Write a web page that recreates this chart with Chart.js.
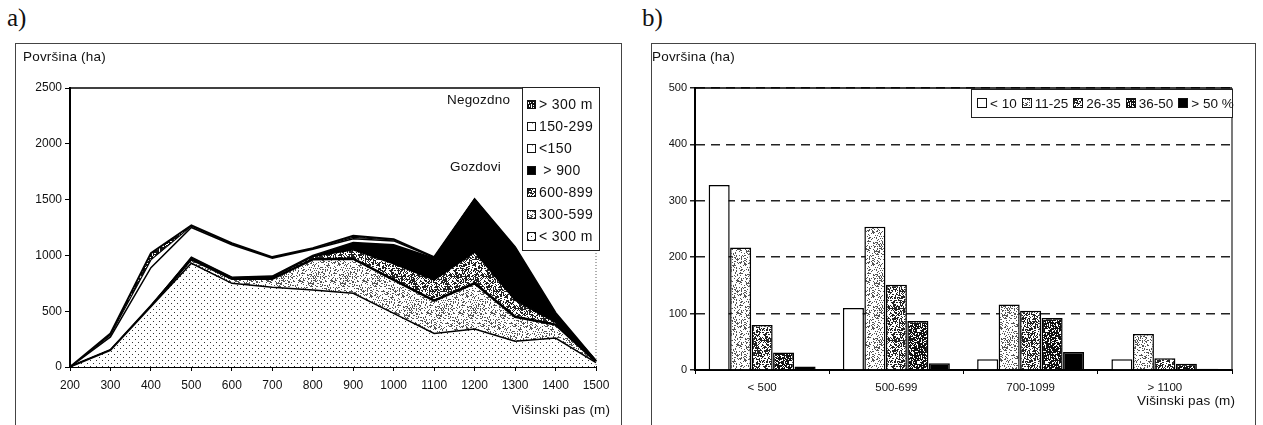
<!DOCTYPE html>
<html>
<head>
<meta charset="utf-8">
<script src="https://cdn.jsdelivr.net/npm/chart.js@4.4.0/dist/chart.umd.min.js"></script>
<style>
    body { margin: 0; width: 1263px; height: 425px; background: #fff; position: relative; overflow: hidden;
           font-family: "Liberation Sans", Arial, sans-serif; color: #111; }
    .abs { position: absolute; white-space: nowrap; }
    .frame { position: absolute; border: 1px solid #444; }
    .tag { font-family: "Liberation Serif", "Times New Roman", serif; font-size: 25px; }
    .axt { font-size: 13.5px; letter-spacing: 0.2px; }
    .lgA { position: absolute; border: 1px solid #222; background: #fff; font-size: 14px; letter-spacing: 0.4px; }
    .lgA div { position: absolute; left: 4px; height: 16px; line-height: 16px; white-space: nowrap; }
    .lgA canvas, .lgB canvas { border: 1px solid #111; vertical-align: middle; margin-right: 3px; position: relative; top: -1px; }
    .lgB { position: absolute; border: 1px solid #222; background: #fff; font-size: 13.5px; letter-spacing: 0px;
           display: flex; align-items: center; white-space: nowrap; }
    .lgB span { margin-left: 5px; white-space: nowrap; }
    canvas.ch { position: absolute; top: 0; }
</style>
</head>
<body>
<div class="frame" style="left:15px;top:43px;width:605px;height:420px;"></div>
<div class="frame" style="left:651px;top:43px;width:603px;height:420px;"></div>

<div class="abs tag" style="left:7px;top:4px;">a)</div>
<div class="abs tag" style="left:642px;top:4px;">b)</div>

<canvas id="chartA" class="ch" width="630" height="425" style="left:0px;"></canvas>
<canvas id="chartB" class="ch" width="633" height="425" style="left:630px;"></canvas>

<div class="abs axt" style="left:23px;top:49px;">Površina (ha)</div>
<div class="abs axt" style="left:652px;top:49px;">Površina (ha)</div>
<div class="abs axt" style="left:512px;top:402px;">Višinski pas (m)</div>
<div class="abs axt" style="left:1137px;top:393px;">Višinski pas (m)</div>

<div class="abs axt" style="left:447px;top:92px;">Negozdno</div>
<div class="abs axt" style="left:450px;top:159px;">Gozdovi</div>

<div id="legendA" class="lgA" style="left:522px;top:87px;width:76px;height:162px;"></div>
<div id="legendB" class="lgB" style="left:971px;top:89px;width:260px;height:27px;"></div>

<script>
// a) area by altitude band (ha), stacked from bottom up
const altitudes = ['200', '300', '400', '500', '600', '700', '800', '900', '1000', '1100', '1200', '1300', '1400', '1500'];
const forestUnder300 = [0, 150, 540, 930, 750, 715, 690, 660, 480, 300, 340, 230, 260, 40];
const forest300to599 = [0, 0, 5, 35, 40, 75, 275, 310, 300, 295, 410, 220, 120, 8];
const forest600to899 = [0, 0, 0, 13, 10, 15, 25, 80, 145, 185, 280, 150, 20, 4];
const forestOver900  = [0, 0, 0, 7, 5, 10, 10, 65, 170, 195, 470, 460, 55, 3];
const openUnder150   = [0, 120, 345, 265, 290, 160, 55, 35, 35, 5, 0, 5, 10, 0];
const open150to299   = [0, 15, 70, 12, 8, 5, 5, 12, 8, 3, 2, 5, 10, 0];
const openOver300    = [0, 15, 60, 8, 7, 5, 5, 13, 7, 2, 3, 5, 10, 0];
const yTicksA = [0, 500, 1000, 1500, 2000, 2500];

// b) area by slope class in each altitude band (ha)
const bandLabels = ['< 500', '500-699', '700-1099', '> 1100'];
const slopeUnder10 = [328, 110, 19, 19];
const slope11to25  = [217, 254, 116, 64];
const slope26to35  = [80, 151, 105, 21];
const slope36to50  = [31, 87, 92, 11];
const slopeOver50  = [6, 12, 32, 2];
const yTicksB = [0, 100, 200, 300, 400, 500];

const FONT = '"Liberation Sans", Arial, sans-serif';

// texture tiles for the scanned fills
function makePattern(size, bg, fg, test) {
    const c = document.createElement('canvas');
    c.width = c.height = size;
    const g = c.getContext('2d');
    g.fillStyle = bg;
    g.fillRect(0, 0, size, size);
    g.fillStyle = fg;
    for (let y = 0; y < size; y++) {
        for (let x = 0; x < size; x++) {
            if (test(x, y)) g.fillRect(x, y, 1, 1);
        }
    }
    return g.createPattern(c, 'repeat');
}
function hash(x, y, seed) {
    let h = Math.imul(x + 1, 0x27d4eb2d) ^ Math.imul(y + 7, 0x165667b1) ^ Math.imul(seed, 0x9e3779b1);
    h = Math.imul(h ^ (h >>> 15), 0x85ebca6b);
    h = Math.imul(h ^ (h >>> 13), 0xc2b2ae35);
    h ^= h >>> 16;
    return (h >>> 0) % 100;
}
const pSparse = makePattern(6, '#fff', '#333', (x, y) => (x === 0 && y === 0) || (x === 3 && y === 3));
const pLight  = makePattern(32, '#fff', '#555', (x, y) => hash(x, y, 1) < 24);
const pMid    = makePattern(32, '#fff', '#222', (x, y) => hash(x, y, 2) < 50);
const pDark   = makePattern(32, '#fff', '#111', (x, y) => hash(x, y, 3) < 72);
const pOpen   = makePattern(8, '#fff', '#999', (x, y) => hash(x, y, 4) < 4);

function frameLines(rightDash) {
    return {
        id: 'frameLines',
        afterDraw(chart) {
            const { ctx, chartArea: a } = chart;
            ctx.save();
            ctx.strokeStyle = '#000';
            ctx.lineWidth = 1.6;
            ctx.beginPath();
            ctx.moveTo(a.left, a.top);
            ctx.lineTo(a.right, a.top);
            ctx.stroke();
            ctx.lineWidth = 1.2;
            ctx.strokeStyle = rightDash ? '#777' : '#222';
            ctx.setLineDash(rightDash ? [1, 2] : []);
            ctx.beginPath();
            ctx.moveTo(a.right, a.top);
            ctx.lineTo(a.right, a.bottom);
            ctx.stroke();
            ctx.restore();
        }
    };
}

function layer(label, data, fill, bg, width) {
    return {
        label: label, data: data, fill: fill,
        backgroundColor: bg, borderColor: '#000', borderWidth: width,
        pointRadius: 0, tension: 0
    };
}

const plainTick = v => String(v);

new Chart(document.getElementById('chartA'), {
    type: 'line',
    data: {
        labels: altitudes,
        datasets: [
            layer('< 300 m', forestUnder300, 'origin', pSparse, 1.5),
            layer('300-599', forest300to599, '-1', pLight, 2.5),
            layer('600-899', forest600to899, '-1', pMid, 1.5),
            layer('> 900', forestOver900, '-1', '#000', 1.5),
            layer('<150', openUnder150, '-1', '#fff', 1.5),
            layer('150-299', open150to299, '-1', '#fff', 1.2),
            layer('> 300 m', openOver300, '-1', pDark, 2)
        ]
    },
    options: {
        responsive: false,
        animation: false,
        layout: { padding: { top: 88, right: 34, left: 0, bottom: 0 } },
        plugins: { legend: { display: false }, tooltip: { enabled: false } },
        scales: {
            x: {
                offset: false,
                afterFit: s => { s.height = 58; },
                grid: { drawOnChartArea: false, tickLength: 4, color: '#000', lineWidth: 1 },
                border: { color: '#000', width: 2 },
                ticks: { color: '#111', font: { family: FONT, size: 12 }, padding: 7, maxRotation: 0, autoSkip: false }
            },
            y: {
                stacked: true,
                min: 0, max: 2500,
                afterFit: s => { s.width = 70; },
                afterBuildTicks: s => { s.ticks = yTicksA.map(v => ({ value: v })); },
                grid: { drawOnChartArea: false, tickLength: 5, color: '#000', lineWidth: 1 },
                border: { color: '#000', width: 2 },
                ticks: { color: '#111', font: { family: FONT, size: 12 }, padding: 3, callback: plainTick }
            }
        }
    },
    plugins: [frameLines(true)]
});

function bars(label, data, bg) {
    return {
        label: label, data: data, backgroundColor: bg,
        borderColor: '#000', borderWidth: 1.5,
        categoryPercentage: 0.8, barPercentage: 0.98
    };
}

new Chart(document.getElementById('chartB'), {
    type: 'bar',
    data: {
        labels: bandLabels,
        datasets: [
            bars('< 10', slopeUnder10, '#fff'),
            bars('11-25', slope11to25, pLight),
            bars('26-35', slope26to35, pMid),
            bars('36-50', slope36to50, pDark),
            bars('> 50 %', slopeOver50, '#000')
        ]
    },
    options: {
        responsive: false,
        animation: false,
        layout: { padding: { top: 88, right: 31, left: 0, bottom: 0 } },
        plugins: { legend: { display: false }, tooltip: { enabled: false } },
        scales: {
            x: {
                afterFit: s => { s.height = 55; },
                grid: { drawOnChartArea: false, tickLength: 4, color: '#000', lineWidth: 1 },
                border: { color: '#000', width: 2 },
                ticks: { color: '#111', font: { family: FONT, size: 11.5 }, padding: 7 }
            },
            y: {
                min: 0, max: 500,
                afterFit: s => { s.width = 65; },
                afterBuildTicks: s => { s.ticks = yTicksB.map(v => ({ value: v })); },
                grid: { color: '#222', lineWidth: 1.5, tickLength: 5 },
                border: { color: '#000', width: 2, dash: [9, 6] },
                ticks: { color: '#111', font: { family: FONT, size: 11 }, padding: 3, callback: plainTick }
            }
        }
    },
    plugins: [frameLines(false)]
});

// legends built as html, swatches painted with the same textures
function swatch(fill, size) {
    const c = document.createElement('canvas');
    c.width = c.height = size;
    const g = c.getContext('2d');
    g.fillStyle = fill;
    g.fillRect(0, 0, size, size);
    return c;
}

const legendARows = [
    ['> 300 m', pDark], ['150-299', pOpen], ['<150', pOpen], ['\u00a0> 900', '#000'],
    ['600-899', pMid], ['300-599', pLight], ['< 300 m', pSparse]
];
const legA = document.getElementById('legendA');
legendARows.forEach((row, i) => {
    const d = document.createElement('div');
    d.style.top = (8 + i * 22) + 'px';
    d.appendChild(swatch(row[1], 7));
    d.appendChild(document.createTextNode(row[0]));
    legA.appendChild(d);
});

const legendBRows = [['< 10', '#fff'], ['11-25', pLight], ['26-35', pMid], ['36-50', pDark], ['> 50 %', '#000']];
const legB = document.getElementById('legendB');
legendBRows.forEach(row => {
    const s = document.createElement('span');
    s.appendChild(swatch(row[1], 8));
    s.appendChild(document.createTextNode(row[0]));
    legB.appendChild(s);
});
</script>
</body>
</html>
